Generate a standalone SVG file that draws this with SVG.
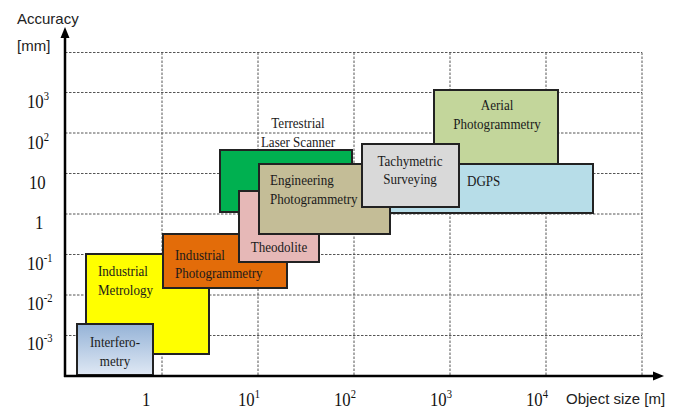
<svg xmlns="http://www.w3.org/2000/svg" width="683" height="409" viewBox="0 0 683 409">
<style>
.grid{stroke:#555;stroke-width:1;stroke-dasharray:2.5 1.5;fill:none}
.axis{stroke:#000;stroke-width:2.5;fill:none}
.box{stroke:#222;stroke-width:2}
.lbl{font-family:"Liberation Serif","Times New Roman",serif;font-size:14.5px;fill:#1a1a1a}
.num{font-family:"Liberation Serif","Times New Roman",serif;font-size:19px;fill:#111}
.sup{font-size:12px}
.sans{font-family:"Liberation Sans",Arial,sans-serif;font-size:15px;fill:#222}
</style>
<defs>
<linearGradient id="gInt" x1="0" y1="0" x2="0" y2="1">
<stop offset="0" stop-color="#95b3d7"/>
<stop offset="1" stop-color="#dfe8f4"/>
</linearGradient>
</defs>
<rect width="683" height="409" fill="#fff"/>
<g id="grid">
<path class="grid" d="M65 52.5H642M65 92.5H642M65 133H642M65 173.5H642M65 214H642M65 254.5H642M65 295H642M65 335.5H642"/>
<path class="grid" d="M162 52.5V376M258 52.5V376M354 52.5V376M450 52.5V376M546 52.5V376M642 52.5V376"/>
</g>
<g id="aerial"><rect class="box" x="434" y="90" width="124" height="76" fill="#c3d69b"/>
<text class="lbl" text-anchor="middle" transform="translate(497 110) scale(0.9 1)"><tspan x="0" y="0">Aerial</tspan><tspan x="0" y="19">Photogrammetry</tspan></text></g>
<g id="dgps"><rect class="box" x="372" y="164" width="221" height="49" fill="#b7dde8"/>
<text class="lbl" transform="translate(467 186) scale(0.9 1)">DGPS</text></g>
<g id="tls"><rect class="box" x="220" y="150" width="132" height="62" fill="#00b050"/>
<text class="lbl" text-anchor="middle" transform="translate(298 128) scale(0.9 1)"><tspan x="0" y="0">Terrestrial</tspan><tspan x="0" y="19">Laser Scanner</tspan></text></g>
<g id="metrology"><rect class="box" x="86" y="254" width="123" height="100" fill="#ffff00"/>
<text class="lbl" transform="translate(98 276) scale(0.9 1)"><tspan x="0" y="0">Industrial</tspan><tspan x="0" y="19">Metrology</tspan></text></g>
<g id="indphoto"><rect class="box" x="163" y="234" width="124" height="54" fill="#e36c09"/>
<text class="lbl" transform="translate(175 260) scale(0.9 1)"><tspan x="0" y="0">Industrial</tspan><tspan x="0" y="18">Photogrammetry</tspan></text></g>
<g id="theodolite"><rect class="box" x="239" y="191" width="80" height="71" fill="#e6b8b7"/>
<text class="lbl" text-anchor="middle" transform="translate(279 252) scale(0.9 1)">Theodolite</text></g>
<g id="engphoto"><rect class="box" x="259" y="164" width="131" height="70" fill="#c4bd97"/>
<text class="lbl" transform="translate(270 185) scale(0.9 1)"><tspan x="0" y="0">Engineering</tspan><tspan x="0" y="19">Photogrammetry</tspan></text></g>
<g id="tachy"><rect class="box" x="362" y="144" width="97" height="63" fill="#d9d9d9"/>
<text class="lbl" text-anchor="middle" transform="translate(410 166) scale(0.9 1)"><tspan x="0" y="0">Tachymetric</tspan><tspan x="0" y="18">Surveying</tspan></text></g>
<g id="interfero"><rect class="box" x="77" y="324" width="76" height="51" fill="url(#gInt)"/>
<text class="lbl" text-anchor="middle" transform="translate(115 347) scale(0.9 1)"><tspan x="0" y="0">Interfero-</tspan><tspan x="0" y="19">metry</tspan></text></g>
<g id="axes">
<path class="axis" d="M65 377V36M64 376H655"/>
<path d="M65 27L60.5 38H69.5Z" fill="#000"/>
<path d="M664 376L653 371.5V380.5Z" fill="#000"/>
<text class="sans" x="17" y="24">Accuracy</text>
<text class="sans" x="17" y="51">[mm]</text>
<text class="sans" x="566" y="404">Object size [m]</text>
</g>
<g id="ylabels" class="num">
<text transform="translate(27 108) scale(0.88 1)">10<tspan class="sup" dy="-8">3</tspan></text>
<text transform="translate(27 149) scale(0.88 1)">10<tspan class="sup" dy="-8">2</tspan></text>
<text transform="translate(29 189) scale(0.88 1)">10</text>
<text transform="translate(35 229) scale(0.88 1)">1</text>
<text transform="translate(27 270) scale(0.88 1)">10<tspan class="sup" dy="-8">-1</tspan></text>
<text transform="translate(27 310) scale(0.88 1)">10<tspan class="sup" dy="-8">-2</tspan></text>
<text transform="translate(27 350) scale(0.88 1)">10<tspan class="sup" dy="-8">-3</tspan></text>
</g>
<g id="xlabels" class="num">
<text transform="translate(142 406) scale(0.88 1)">1</text>
<text transform="translate(238 406) scale(0.88 1)">10<tspan class="sup" dy="-8">1</tspan></text>
<text transform="translate(334 406) scale(0.88 1)">10<tspan class="sup" dy="-8">2</tspan></text>
<text transform="translate(430 406) scale(0.88 1)">10<tspan class="sup" dy="-8">3</tspan></text>
<text transform="translate(526 406) scale(0.88 1)">10<tspan class="sup" dy="-8">4</tspan></text>
</g>
</svg>
